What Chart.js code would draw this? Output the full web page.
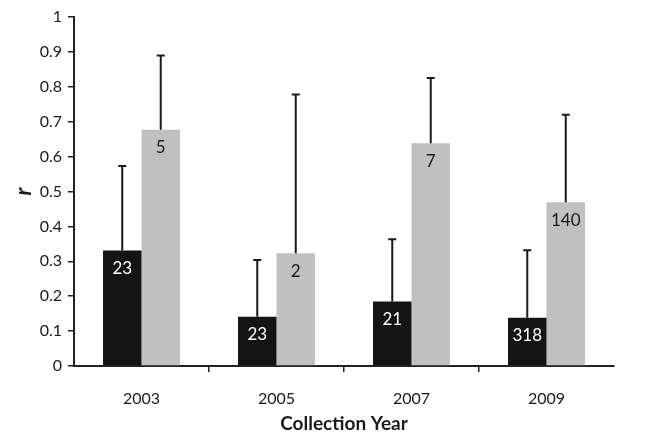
<!DOCTYPE html>
<html>
<head>
<meta charset="utf-8">
<script src="https://cdn.jsdelivr.net/npm/chart.js@4.4.1/dist/chart.umd.min.js"></script>
<style>
  html, body { margin: 0; padding: 0; background: #fff; }
  #wrap { width: 646px; height: 433px; position: relative; }
</style>
</head>
<body>
<div id="wrap"><canvas id="c" width="646" height="433"></canvas></div>
<script>
const categories = ['2003', '2005', '2007', '2009'];
const blackValues = [0.331, 0.141, 0.185, 0.138];
const blackErrTop = [0.573, 0.304, 0.363, 0.332];
const blackCounts = ['23', '23', '21', '318'];
const grayValues = [0.677, 0.323, 0.638, 0.469];
const grayErrTop = [0.890, 0.778, 0.825, 0.720];
const grayCounts = ['5', '2', '7', '140'];
const yTicks = [0, 0.1, 0.2, 0.3, 0.4, 0.5, 0.6, 0.7, 0.8, 0.9, 1];

const FONT = 'Lato, "Open Sans", sans-serif';

const overlay = {
  id: 'overlay',
  afterDatasetsDraw(chart) {
    const ctx = chart.ctx;
    const y = chart.scales.y;
    const sets = [
      {err: blackErrTop, labels: blackCounts, color: '#ffffff'},
      {err: grayErrTop, labels: grayCounts, color: '#1a1a1a'}
    ];
    sets.forEach((s, di) => {
      const meta = chart.getDatasetMeta(di);
      meta.data.forEach((bar, i) => {
        const x = bar.x;
        const top = bar.y;
        const et = y.getPixelForValue(s.err[i]);
        ctx.save();
        ctx.strokeStyle = '#1a1a1a';
        ctx.lineWidth = 2;
        ctx.beginPath();
        ctx.moveTo(x, top);
        ctx.lineTo(x, et);
        ctx.moveTo(x - 4, et);
        ctx.lineTo(x + 4, et);
        ctx.stroke();
        ctx.fillStyle = s.color;
        ctx.font = '17px ' + FONT;
        ctx.textAlign = 'center';
        ctx.textBaseline = 'middle';
        ctx.fillText(s.labels[i], x, top + 18);
        ctx.restore();
      });
    });
  }
};

new Chart(document.getElementById('c'), {
  type: 'bar',
  data: {
    labels: categories,
    datasets: [
      {data: blackValues, backgroundColor: '#141414', borderWidth: 0},
      {data: grayValues, backgroundColor: '#c0c0c0', borderWidth: 0}
    ]
  },
  options: {
    responsive: false,
    animation: false,
    events: [],
    layout: {padding: {top: 17, right: 32, left: 0, bottom: 0}},
    plugins: {legend: {display: false}, tooltip: {enabled: false}},
    datasets: {bar: {barPercentage: 1, categoryPercentage: 0.57}},
    scales: {
      x: {
        afterFit(s) { s.height = 67; },
        border: {display: true, color: '#222', width: 2},
        grid: {
          display: true, drawOnChartArea: false, offset: true, tickLength: 6, lineWidth: 1.5,
          color: (c) => (c.index >= 1 && c.index <= 3) ? '#222' : 'rgba(0,0,0,0)'
        },
        ticks: {color: '#1a1a1a', font: {family: FONT, size: 16}, padding: 17},
        title: {display: true, text: 'Collection Year', color: '#1a1a1a',
          font: {family: FONT, size: 19, weight: 'bold', lineHeight: 1.0}, padding: {top: 0, bottom: 0}}
      },
      y: {
        min: 0, max: 1,
        afterFit(s) { s.width = 74; },
        afterBuildTicks(s) { s.ticks = yTicks.map(v => ({value: v})); },
        border: {display: true, color: '#222', width: 2},
        grid: {display: true, drawOnChartArea: false, tickLength: 6, color: '#222', lineWidth: 1.5},
        ticks: {color: '#1a1a1a', font: {family: FONT, size: 16}, padding: 6,
          callback: (v) => String(v)},
        title: {display: true, text: 'r', color: '#1a1a1a',
          font: {family: FONT, size: 22, weight: 'bold', style: 'italic'}, padding: {top: 11, bottom: 0}}
      }
    }
  },
  plugins: [overlay]
});
</script>
</body>
</html>
